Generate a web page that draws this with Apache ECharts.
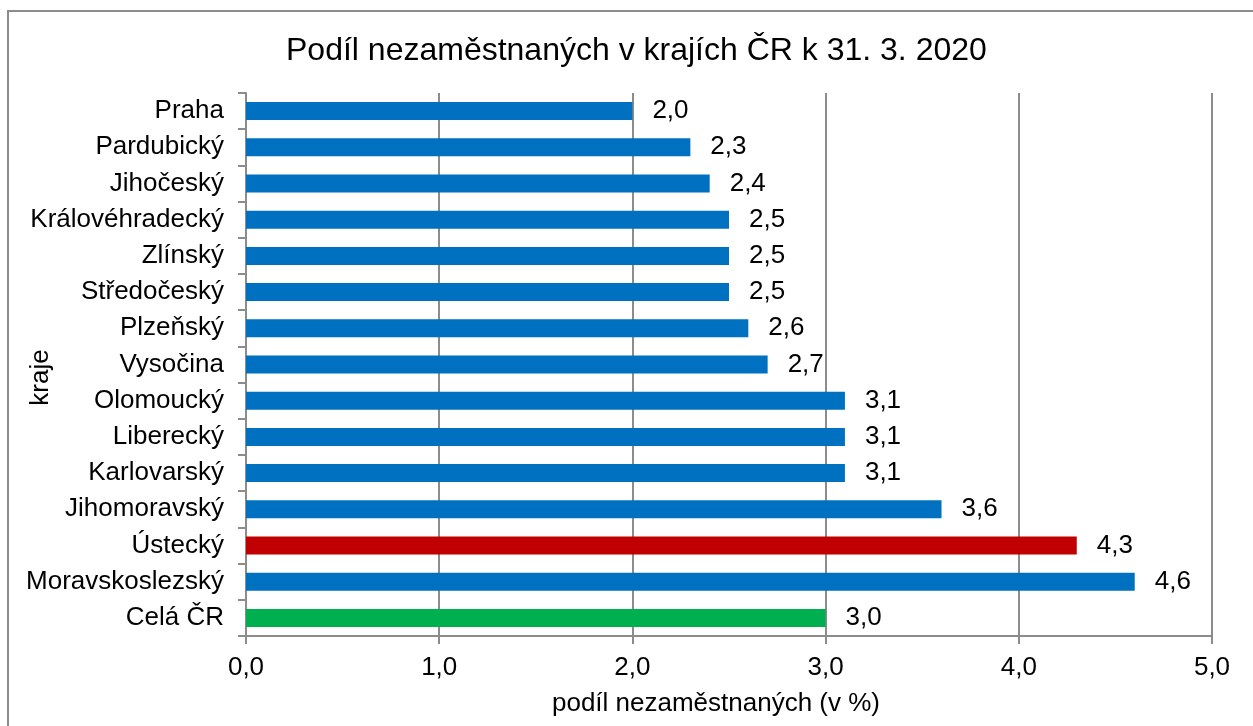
<!DOCTYPE html>
<html>
<head>
<meta charset="utf-8">
<script src="https://cdn.jsdelivr.net/npm/echarts@6/dist/echarts.min.js"></script>
<style>
    html, body { margin: 0; padding: 0; background: #fff; }
    #main { width: 1253px; height: 726px; }
</style>
</head>
<body>
<div id="main"></div>
<script>
/* ============================
   DATA
============================ */
const kraje = ['Praha', 'Pardubický', 'Jihočeský', 'Královéhradecký', 'Zlínský', 'Středočeský',
    'Plzeňský', 'Vysočina', 'Olomoucký', 'Liberecký', 'Karlovarský', 'Jihomoravský',
    'Ústecký', 'Moravskoslezský', 'Celá ČR'];
const podil = [2.0, 2.3, 2.4, 2.5, 2.5, 2.5, 2.6, 2.7, 3.1, 3.1, 3.1, 3.6, 4.3, 4.6, 3.0];
const osaX = [0, 1, 2, 3, 4, 5];

/* ============================
   STYLES
============================ */
const FONT = 'Liberation Sans, Arial, sans-serif';
const SEDA = '#8c8c8c';
const barvy = { 'Ústecký': '#C00000', 'Celá ČR': '#00B050' };

const fmt = v => Number(v).toFixed(1).replace('.', ',');

const chart = echarts.init(document.getElementById('main'), null, { renderer: 'canvas' });

chart.setOption({
    animation: false,
    backgroundColor: '#fff',
    title: {
        text: 'Podíl nezaměstnaných v krajích ČR k 31. 3. 2020',
        left: 281,
        top: 30,
        textStyle: { fontFamily: FONT, fontSize: 32, fontWeight: 'normal', color: '#000' }
    },
    graphic: [{
        type: 'rect',
        shape: { x: 8, y: 11, width: 1270, height: 740 },
        style: { fill: 'none', stroke: SEDA, lineWidth: 2 },
        silent: true
    }],
    grid: { left: 246, right: 41, top: 93, bottom: 90, containLabel: false, outerBoundsMode: 'none' },
    xAxis: {
        type: 'value',
        min: osaX[0],
        max: osaX[osaX.length - 1],
        interval: 1,
        name: 'podíl nezaměstnaných (v %)',
        nameLocation: 'middle',
        nameGap: 55,
        nameMoveOverlap: false,
        nameTextStyle: { fontFamily: FONT, fontSize: 26, color: '#000', padding: [0, 26, 0, 0] },
        axisLine: { show: true, lineStyle: { color: SEDA, width: 2 } },
        axisTick: { show: true, length: 8, lineStyle: { color: SEDA, width: 2 } },
        axisLabel: { formatter: fmt, margin: 19, fontFamily: FONT, fontSize: 26, color: '#000' },
        splitLine: { show: true, lineStyle: { color: SEDA, width: 2 } }
    },
    yAxis: {
        type: 'category',
        data: kraje,
        inverse: true,
        name: 'kraje',
        nameLocation: 'middle',
        nameGap: 192,
        nameRotate: 90,
        nameMoveOverlap: false,
        nameTextStyle: { fontFamily: FONT, fontSize: 26, color: '#000', padding: [0, 26, 0, 0] },
        axisLine: { show: true, lineStyle: { color: SEDA, width: 2 } },
        axisTick: { show: true, length: 8, lineStyle: { color: SEDA, width: 2 } },
        axisLabel: { margin: 22, fontFamily: FONT, fontSize: 26, color: '#000' },
        splitLine: { show: false }
    },
    series: [{
        type: 'bar',
        barWidth: 18,
        data: podil.map((v, i) => ({
            value: v,
            itemStyle: { color: barvy[kraje[i]] || '#0070C0' }
        })),
        label: {
            show: true,
            position: 'right',
            distance: 20,
            formatter: p => fmt(p.value),
            fontFamily: FONT,
            fontSize: 26,
            color: '#000'
        }
    }]
});
</script>
</body>
</html>
